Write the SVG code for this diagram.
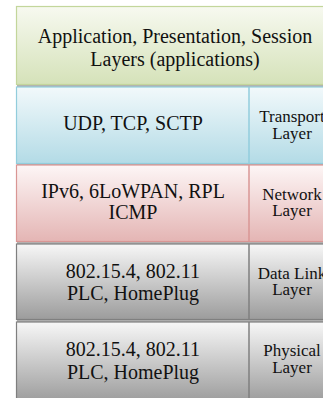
<svg xmlns="http://www.w3.org/2000/svg" width="323" height="398" viewBox="0 0 323 398">
<defs>
<linearGradient id="gGreen" x1="0" y1="0" x2="0" y2="1"><stop offset="0" stop-color="#f7f9f0"/><stop offset="1" stop-color="#d5e2b9"/></linearGradient>
<linearGradient id="gBlue" x1="0" y1="0" x2="0" y2="1"><stop offset="0" stop-color="#f2f9fb"/><stop offset="1" stop-color="#b3dbe6"/></linearGradient>
<linearGradient id="gPink" x1="0" y1="0" x2="0" y2="1"><stop offset="0" stop-color="#fdf6f6"/><stop offset="1" stop-color="#e4b5b4"/></linearGradient>
<linearGradient id="gGrey" x1="0" y1="0" x2="0" y2="1"><stop offset="0" stop-color="#f7f7f7"/><stop offset="1" stop-color="#9c9c9c"/></linearGradient>
</defs>
<style>
text{fill:#111;text-anchor:middle}
.m{font-size:20px}
.s{font-size:17px}
.sh{fill:#000;opacity:0.3}
.green{fill:url(#gGreen);stroke:#c3d69b;stroke-width:1.2}
.blue{fill:url(#gBlue);stroke:#92cddc;stroke-width:1.2}
.pink{fill:url(#gPink);stroke:#d99694;stroke-width:1.2}
.grey{fill:url(#gGrey);stroke:#7f7f7f;stroke-width:1.2}
.dv-blue{stroke:#92cddc;stroke-width:1.5}
.dv-pink{stroke:#d99694;stroke-width:1.5}
.dv-grey{stroke:#7f7f7f;stroke-width:1.5}
</style>
<g font-family="'Liberation Serif', 'Times New Roman', serif">
<g id="app">
<rect class="sh" x="17" y="8" width="320" height="79"/>
<rect class="green" x="16.5" y="6.5" width="320" height="78"/>
<text class="m" x="175" y="42.5">Application, Presentation, Session</text>
<text class="m" x="175" y="65.5">Layers (applications)</text>
</g>
<g id="transport">
<rect class="sh" x="17" y="88" width="320" height="78"/>
<rect class="blue" x="16.5" y="87" width="320" height="76.5"/>
<line class="dv-blue" x1="249" y1="87" x2="249" y2="163.5"/>
<text class="m" x="133" y="130">UDP, TCP, SCTP</text>
<text class="s" x="292" y="122">Transport</text>
<text class="s" x="292" y="138.5">Layer</text>
</g>
<g id="network">
<rect class="sh" x="17" y="166" width="320" height="78"/>
<rect class="pink" x="16.5" y="165" width="320" height="76.5"/>
<line class="dv-pink" x1="249" y1="165" x2="249" y2="241.5"/>
<text class="m" x="133" y="198">IPv6, 6LoWPAN, RPL</text>
<text class="m" x="133" y="219">ICMP</text>
<text class="s" x="292" y="199.5">Network</text>
<text class="s" x="292" y="216">Layer</text>
</g>
<g id="datalink">
<rect class="sh" x="17" y="245" width="320" height="77"/>
<rect class="grey" x="16.5" y="244" width="320" height="75.5"/>
<line class="dv-grey" x1="249" y1="244" x2="249" y2="319.5"/>
<text class="m" x="133" y="277.5">802.15.4, 802.11</text>
<text class="m" x="133" y="300">PLC, HomePlug</text>
<text class="s" x="292" y="278.5">Data Link</text>
<text class="s" x="292" y="295">Layer</text>
</g>
<g id="physical">
<rect class="sh" x="17" y="323" width="320" height="80"/>
<rect class="grey" x="16.5" y="322" width="320" height="80"/>
<line class="dv-grey" x1="249" y1="322" x2="249" y2="402"/>
<text class="m" x="133" y="356">802.15.4, 802.11</text>
<text class="m" x="133" y="378.5">PLC, HomePlug</text>
<text class="s" x="292" y="356">Physical</text>
<text class="s" x="292" y="372.5">Layer</text>
</g>
</g>
</svg>
